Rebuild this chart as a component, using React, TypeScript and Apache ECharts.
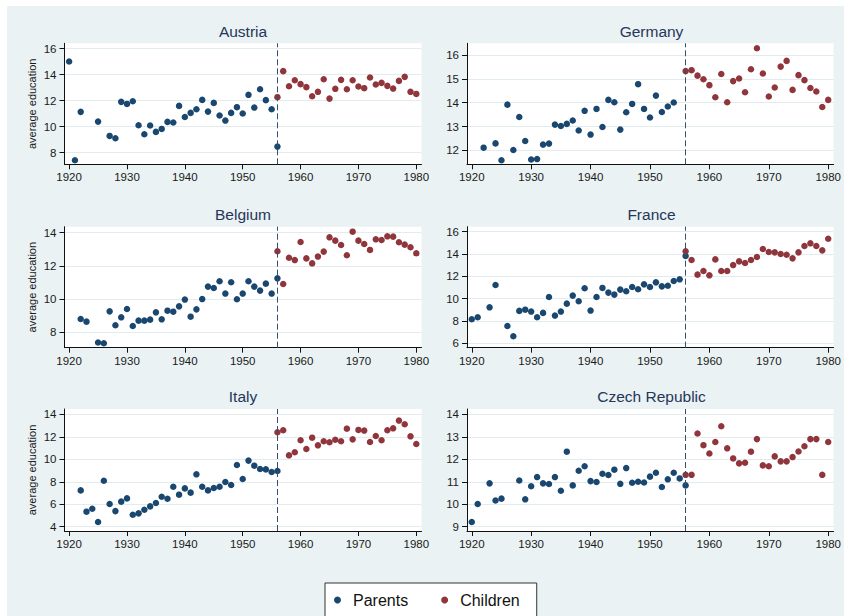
import React, { useEffect, useRef } from "react";
import * as echarts from "echarts";

// Birth-cohort years
const parentYears = Array.from({ length: 37 }, (_, i) => 1920 + i); // 1920–1956
const childYears = Array.from({ length: 25 }, (_, i) => 1956 + i); // 1956–1980
const yearTicks = [1920, 1930, 1940, 1950, 1960, 1970, 1980];
const cutoffYear = 1956;

const countries = ["Austria", "Germany", "Belgium", "France", "Italy", "Czech Republic"];

// Average education of parents, by year (null = no observation)
const austriaParents = [15.0, 7.41, 11.13, null, null, 10.38, null, 9.28, 9.1, 11.9, 11.74, 11.95, 10.1, 9.41, 10.08, 9.59, 9.82, 10.36, 10.31, 11.59, 10.74, 11.05, 11.33, 12.05, 11.15, 11.82, 10.85, 10.46, 11.05, 11.49, 11.0, 12.44, 11.46, 12.87, 12.03, 11.33, 8.46];
const germanyParents = [null, null, 12.11, null, 12.29, 11.58, 13.92, 12.01, 13.4, 12.39, 11.61, 11.63, 12.24, 12.28, 13.08, 13.02, 13.11, 13.25, 12.83, 13.66, 12.66, 13.74, 12.98, 14.12, 14.02, 12.87, 13.6, 13.95, 14.78, 13.74, 13.38, 14.3, 13.61, 13.84, 14.01, null, null];
const belgiumParents = [null, null, 8.8, 8.64, null, 7.38, 7.34, 9.26, 8.42, 8.9, 9.4, 8.38, 8.7, 8.7, 8.76, 9.2, 8.78, 9.3, 9.24, 9.56, 9.97, 8.94, 9.38, 10.0, 10.75, 10.67, 11.07, 10.33, 11.01, 9.99, 10.33, 11.07, 10.75, 10.51, 10.93, 10.33, 11.25];
const franceParents = [8.15, 8.33, null, 9.22, 11.22, null, 7.55, 6.63, 8.9, 9.01, 8.84, 8.33, 8.72, 10.15, 8.48, 8.84, 9.55, 10.27, 9.76, 10.93, 8.93, 10.15, 10.96, 10.54, 10.36, 10.81, 10.66, 11.04, 10.84, 11.28, 11.04, 11.46, 11.1, 11.16, 11.58, 11.73, 13.82];
const italyParents = [null, null, 7.23, 5.34, 5.6, 4.42, 8.09, 6.02, 5.39, 6.23, 6.52, 5.07, 5.19, 5.51, 5.81, 6.11, 6.67, 6.49, 7.56, 6.85, 7.41, 7.03, 8.66, 7.56, 7.23, 7.44, 7.56, 7.98, 7.71, 9.49, 8.24, 9.88, 9.43, 9.13, 9.1, 8.87, 8.96];
const czechParents = [9.21, 10.01, null, 10.93, 10.17, 10.25, null, null, 11.06, 10.22, 10.8, 11.21, 10.93, 10.9, 11.21, 10.6, 12.34, 10.84, 11.49, 11.69, 11.03, 10.99, 11.36, 11.3, 11.54, 10.91, 11.61, 10.96, 11.0, 10.97, 11.23, 11.4, 10.77, 11.11, 11.4, 11.15, 10.84];

// Average education of children, 1956–1980
const austriaChildren = [12.26, 14.26, 13.1, 13.56, 13.26, 13.03, 12.33, 12.67, 13.64, 12.15, 12.9, 13.59, 12.87, 13.56, 13.08, 12.95, 13.77, 13.23, 13.36, 13.13, 12.92, 13.51, 13.82, 12.67, 12.51];
const germanyChildren = [15.33, 15.37, 15.14, 14.99, 14.74, 14.23, 15.21, 14.02, 14.91, 15.02, 14.44, 15.41, 16.29, 15.23, 14.26, 14.64, 15.52, 15.76, 14.54, 15.16, 14.95, 14.62, 14.47, 13.82, 14.12];
const belgiumChildren = [12.88, 10.91, 12.49, 12.35, 13.44, 12.45, 12.15, 12.56, 12.86, 13.72, 13.52, 13.26, 12.64, 14.06, 13.52, 13.32, 12.96, 13.6, 13.56, 13.78, 13.76, 13.42, 13.28, 13.12, 12.76];
const franceChildren = [14.24, 13.46, 12.15, 12.48, 12.09, 13.52, 12.48, 12.48, 13.01, 13.34, 13.19, 13.46, 13.73, 14.45, 14.18, 14.15, 14.0, 13.94, 13.61, 14.15, 14.72, 14.96, 14.72, 14.33, 15.37];
const italyChildren = [12.4, 12.58, 10.35, 10.62, 11.69, 10.91, 11.92, 11.24, 11.6, 11.51, 11.74, 11.6, 12.72, 11.77, 12.61, 12.55, 11.54, 12.07, 11.69, 12.58, 12.75, 13.44, 13.11, 12.04, 11.36];
const czechChildren = [11.31, 11.31, 13.15, 12.63, 12.26, 12.77, 13.47, 12.49, 12.04, 11.82, 11.85, 12.34, 12.9, 11.73, 11.69, 12.13, 11.91, 11.91, 12.1, 12.35, 12.58, 12.9, 12.9, 11.31, 12.77];

const parentsByCountry = [austriaParents, germanyParents, belgiumParents, franceParents, italyParents, czechParents];
const childrenByCountry = [austriaChildren, germanyChildren, belgiumChildren, franceChildren, italyChildren, czechChildren];

// y-axis tick labels per panel
const yTicksByCountry = [
  [8, 10, 12, 14, 16],
  [12, 13, 14, 15, 16],
  [8, 10, 12, 14],
  [6, 8, 10, 12, 14, 16],
  [4, 6, 8, 10, 12, 14],
  [9, 10, 11, 12, 13, 14],
];
const yRangeByCountry = [
  [7.1, 16.4],
  [11.41, 16.5],
  [7.07, 14.36],
  [5.6, 16.45],
  [3.62, 14.47],
  [8.81, 14.24],
];

const PARENT_COLOR = "#1a476f";
const CHILD_COLOR = "#90353b";
const FONT = "'Liberation Sans', Arial, Helvetica, sans-serif";

const colLeft = [57.5, 460];
const colWidth = [357, 369];
const rowTop = [37.3, 220.7, 403];
const rowHeight = [121, 121, 122];

const toPairs = (years: number[], vals: (number | null)[]) =>
  years.map((y, i) => [y, vals[i]]).filter((p) => p[1] !== null);

const plain = (v: number) => String(v);

export default function App() {
  const ref = useRef<HTMLDivElement>(null);

  useEffect(() => {
    if (!ref.current) return;
    const chart = echarts.init(ref.current, null, { renderer: "svg" });

    const grid: any[] = [];
    const xAxis: any[] = [];
    const yAxis: any[] = [];
    const series: any[] = [];
    const graphic: any[] = [];

    countries.forEach((name, i) => {
      const col = i % 2;
      const row = Math.floor(i / 2);
      grid.push({
        left: colLeft[col],
        top: rowTop[row],
        width: colWidth[col],
        height: rowHeight[row],
        show: true,
        backgroundColor: "#ffffff",
        borderWidth: 0,
      });
      xAxis.push({
        type: "value",
        gridIndex: i,
        min: 1919.2,
        max: 1980.9,
        axisLine: { show: true, onZero: false, lineStyle: { color: "#111", width: 1 } },
        axisTick: { show: true, customValues: yearTicks, length: 5, lineStyle: { color: "#111" } },
        axisLabel: {
          customValues: yearTicks,
          formatter: plain,
          margin: 7,
          fontSize: 11.5,
          color: "#1a1a1a",
          fontFamily: FONT,
        },
        splitLine: { show: false },
      });
      const yTicks = yTicksByCountry[i];
      yAxis.push({
        type: "value",
        gridIndex: i,
        min: yRangeByCountry[i][0],
        max: yRangeByCountry[i][1],
        name: col === 0 ? "average education" : "",
        nameLocation: "middle",
        nameGap: 27,
        nameTextStyle: { fontSize: 11, color: "#1a1a1a", fontFamily: FONT },
        axisLine: { show: true, onZero: false, lineStyle: { color: "#111", width: 1 } },
        axisTick: { show: true, customValues: yTicks, length: 5, lineStyle: { color: "#111" } },
        axisLabel: {
          customValues: yTicks,
          formatter: plain,
          margin: 8,
          fontSize: 11.5,
          color: "#1a1a1a",
          fontFamily: FONT,
        },
        splitLine: { show: true, lineStyle: { color: "#e2ebee", width: 1 } },
      });
      series.push({
        name: "Parents",
        type: "scatter",
        xAxisIndex: i,
        yAxisIndex: i,
        symbolSize: 6.5,
        itemStyle: { color: PARENT_COLOR, opacity: 1 },
        data: toPairs(parentYears, parentsByCountry[i]),
        markLine: {
          silent: true,
          symbol: "none",
          label: { show: false },
          lineStyle: { color: "#34506f", type: [6, 3], width: 1 },
          data: [{ xAxis: cutoffYear }],
        },
      });
      series.push({
        name: "Children",
        type: "scatter",
        xAxisIndex: i,
        yAxisIndex: i,
        symbolSize: 6.5,
        itemStyle: { color: CHILD_COLOR, opacity: 1 },
        data: toPairs(childYears, childrenByCountry[i]),
      });
      graphic.push({
        type: "text",
        x: colLeft[col] + colWidth[col] / 2,
        y: rowTop[row] - 12.3,
        style: {
          text: name,
          fill: "#26365a",
          font: `15.5px ${FONT}`,
          align: "center",
          verticalAlign: "middle",
        },
      });
    });

    chart.setOption({
      animation: false,
      backgroundColor: "#eaf2f3",
      grid,
      xAxis,
      yAxis,
      series,
      graphic,
      legend: {
        data: [
          { name: "Parents", icon: "circle" },
          { name: "Children", icon: "circle" },
        ],
        left: 318,
        top: 577,
        orient: "horizontal",
        itemWidth: 7,
        itemHeight: 7,
        itemGap: 33,
        padding: [9, 17, 24, 9],
        backgroundColor: "#ffffff",
        borderColor: "#333",
        borderWidth: 1,
        selectedMode: false,
        textStyle: { fontSize: 16, color: "#111", fontFamily: FONT, padding: [0, 0, 0, 7] },
      },
    });

    return () => chart.dispose();
  }, []);

  return (
    <div
      ref={ref}
      style={{ position: "absolute", left: 7, top: 6, width: 837, height: 610 }}
    />
  );
}
